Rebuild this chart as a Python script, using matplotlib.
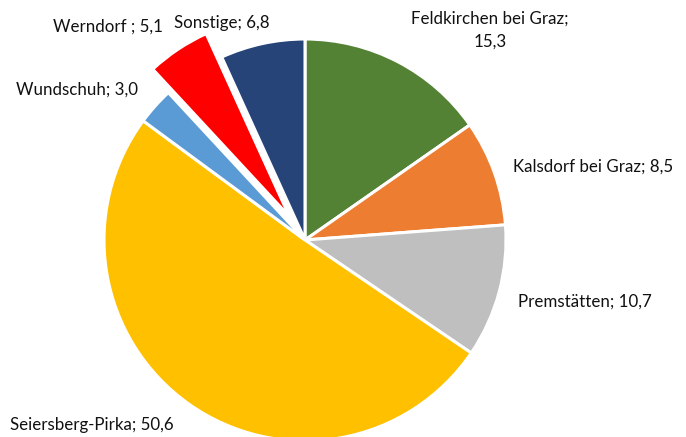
import numpy as np
import matplotlib.pyplot as plt

plt.rcParams['font.family'] = ['Lato', 'DejaVu Sans']

gemeinden = ['Feldkirchen bei Graz', 'Kalsdorf bei Graz', 'Premstätten',
             'Seiersberg-Pirka', 'Wundschuh', 'Werndorf ', 'Sonstige']
anteile = [15.3, 8.5, 10.7, 50.6, 3.0, 5.1, 6.8]
farben = ['#548235', '#ED7D31', '#BFBFBF', '#FFC000', '#5B9BD5', '#FF0000', '#264478']
explode = [0, 0, 0, 0, 0, 0.14, 0]

# label positions in pixels (center of text)
label_px = [(490, 30), (593, 167), (585, 302), (92, 425), (77, 90), (108, 27), (222, 23)]

W, H = 686, 437
cx, cy, r = 305, 240, 201

fig = plt.figure(figsize=(W / 100, H / 100), dpi=100)
ax = fig.add_axes([0, 0, 1, 1])
ax.pie(anteile, colors=farben, startangle=90, counterclock=False,
       explode=explode, radius=1,
       wedgeprops=dict(edgecolor='white', linewidth=2.2))
ax.set_aspect('auto')
ax.set_xlim(-cx / r, (W - cx) / r)
ax.set_ylim(-(H - cy) / r, cy / r)
ax.axis('off')

for name, wert, (px, py) in zip(gemeinden, anteile, label_px):
    txt = f"{name}; {wert:.1f}".replace('.', ',')
    if name.startswith('Feldkirchen'):
        txt = txt.replace('; ', ';\n')
    ax.text((px - cx) / r, (cy - py) / r, txt, ha='center', va='center',
            fontsize=12.2, color='#111111', linespacing=1.5)

fig.savefig('out.png', dpi=100)
